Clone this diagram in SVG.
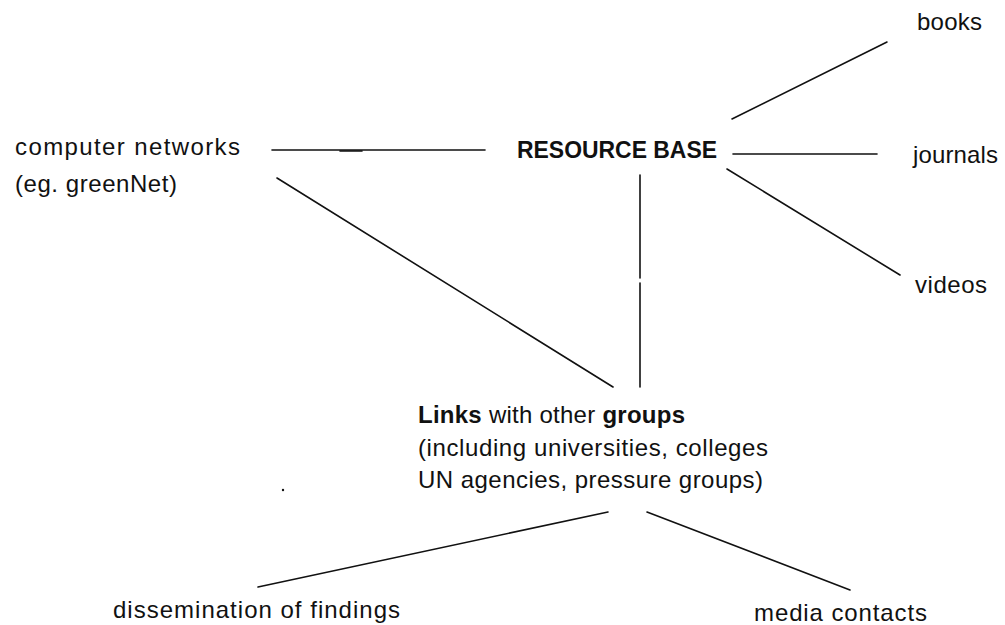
<svg xmlns="http://www.w3.org/2000/svg" width="1005" height="625" viewBox="0 0 1005 625">
<style>
text{font-family:"Liberation Sans",Arial,sans-serif;font-size:24px;fill:#111}
.b{font-weight:bold}
.c{stroke:#111;stroke-width:1.6;fill:none;stroke-linecap:round}
</style>
<rect width="1005" height="625" fill="#fff"/>
<g id="connectors">
<line class="c" x1="272" y1="150" x2="485" y2="150"/>
<line class="c" x1="340" y1="151" x2="362" y2="151" stroke-width="2.4"/>
<line class="c" x1="277" y1="178" x2="613" y2="387"/>
<line class="c" x1="733" y1="154" x2="877" y2="154"/>
<line class="c" x1="732" y1="119" x2="887" y2="42"/>
<line class="c" x1="727" y1="169" x2="900" y2="275"/>
<line class="c" x1="640" y1="175" x2="640" y2="278" stroke-width="2.6"/>
<line class="c" x1="640" y1="283" x2="640" y2="387"/>
<line class="c" x1="608" y1="512" x2="258" y2="587"/>
<line class="c" x1="647" y1="512" x2="850" y2="590"/>
</g>
<g id="resource-base"><text class="b" x="517" y="158" textLength="200" lengthAdjust="spacingAndGlyphs">RESOURCE BASE</text></g>
<g id="computer-networks">
<text x="15" y="155" textLength="225">computer networks</text>
<text x="15" y="192" textLength="162">(eg. greenNet)</text>
</g>
<g id="books"><text x="917" y="30" textLength="65">books</text></g>
<g id="journals"><text x="913" y="163" textLength="85">journals</text></g>
<g id="videos"><text x="915" y="293" textLength="72">videos</text></g>
<g id="links">
<text x="418" y="423" textLength="267"><tspan class="b">Links</tspan> with other <tspan class="b">groups</tspan></text>
<text x="418" y="456" textLength="350">(including universities, colleges</text>
<text x="418" y="488" textLength="345">UN agencies, pressure groups)</text>
</g>
<g id="dissemination"><text x="113" y="618" textLength="287">dissemination of findings</text></g>
<g id="media"><text x="754" y="621" textLength="173">media contacts</text></g>
<circle cx="283" cy="490" r="1.2" fill="#111"/>
</svg>
